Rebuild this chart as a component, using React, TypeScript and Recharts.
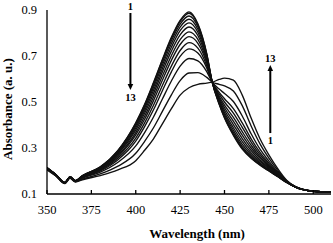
import * as React from 'react'
import { LineChart, Line, XAxis, YAxis, ReferenceLine } from 'recharts'

// wavelengths (nm)
const wl = [350, 355, 360, 363, 366, 370, 380, 390, 400, 405, 410, 415, 420, 425, 430, 435, 440, 443, 447, 450, 455, 460, 465, 470, 475, 480, 485, 490, 500, 510]

// absorbance, curve 1 .. 13
const c1 = [.215, .185, .150, .175, .158, .180, .218, .290, .410, .490, .585, .685, .780, .855, .892, .840, .710, .590, .490, .430, .355, .295, .255, .225, .200, .175, .150, .130, .112, .108]
const c2 = [.214, .184, .150, .174, .158, .180, .217, .289, .407, .487, .581, .681, .775, .850, .886, .836, .708, .589, .492, .433, .359, .299, .258, .227, .201, .176, .150, .130, .112, .108]
const c3 = [.214, .184, .150, .174, .158, .179, .216, .286, .402, .480, .573, .672, .765, .839, .874, .827, .704, .589, .495, .438, .367, .306, .263, .231, .203, .177, .150, .130, .112, .108]
const c4 = [.214, .184, .150, .174, .158, .178, .215, .282, .395, .472, .563, .660, .752, .826, .860, .816, .698, .589, .500, .446, .377, .316, .271, .235, .206, .178, .151, .130, .112, .108]
const c5 = [.213, .184, .149, .174, .157, .177, .213, .278, .387, .462, .551, .646, .737, .810, .844, .803, .692, .589, .505, .454, .388, .328, .279, .241, .210, .180, .151, .130, .112, .108]
const c6 = [.213, .184, .149, .174, .157, .177, .211, .274, .378, .451, .537, .631, .720, .792, .826, .789, .685, .589, .511, .464, .402, .341, .289, .247, .214, .182, .152, .130, .112, .108]
const c7 = [.213, .184, .149, .174, .157, .175, .208, .268, .367, .438, .522, .613, .700, .771, .805, .772, .677, .588, .518, .475, .417, .356, .300, .255, .218, .184, .153, .130, .112, .108]
const c8 = [.211, .182, .148, .171, .155, .174, .206, .263, .357, .425, .506, .595, .680, .750, .784, .755, .669, .588, .525, .486, .433, .371, .312, .262, .223, .186, .153, .131, .112, .108]
const c9 = [.211, .182, .148, .171, .155, .173, .203, .256, .343, .409, .486, .572, .655, .724, .758, .734, .658, .588, .534, .500, .452, .390, .326, .271, .228, .189, .154, .131, .112, .108]
const c10 = [.211, .182, .148, .171, .155, .171, .200, .249, .330, .393, .466, .549, .630, .698, .731, .713, .648, .587, .542, .514, .471, .409, .340, .281, .234, .192, .155, .131, .112, .108]
const c11 = [.208, .180, .147, .170, .154, .169, .195, .238, .309, .367, .435, .513, .590, .656, .689, .679, .632, .587, .556, .537, .502, .439, .362, .295, .243, .196, .156, .131, .112, .108]
const c12 = [.208, .180, .147, .170, .154, .165, .187, .221, .277, .329, .388, .459, .530, .593, .626, .628, .607, .587, .577, .570, .548, .484, .396, .318, .256, .203, .158, .132, .112, .108]
const c13 = [.205, .178, .145, .168, .152, .162, .180, .205, .245, .290, .340, .405, .470, .530, .562, .577, .582, .586, .598, .604, .595, .530, .430, .340, .270, .210, .160, .132, .112, .108]

const curves = [c1, c2, c3, c4, c5, c6, c7, c8, c9, c10, c11, c12, c13]
const xTicks = [350, 375, 400, 425, 450, 475, 500]
const yTicks = [0.1, 0.3, 0.5, 0.7, 0.9]

const rows = wl.map((w, i) => {
    const r: any = { w }
    curves.forEach((c, k) => { r['s' + (k + 1)] = c[i] })
    return r
})

const serif = '"Liberation Serif", "Times New Roman", serif'

// vertical arrow with a number at each end
const arrow = (head: 'up' | 'down', topText: string, bottomText: string) => (p: any) => {
    const x = p.x1
    const top = Math.min(p.y1, p.y2)
    const bot = Math.max(p.y1, p.y2)
    const tri = head === 'down'
        ? `${x - 2.8},${bot - 6} ${x + 2.8},${bot - 6} ${x},${bot}`
        : `${x - 2.8},${top + 6} ${x + 2.8},${top + 6} ${x},${top}`
    const txt = { fontFamily: serif, fontSize: 10.5, fontWeight: 700, fill: '#000', stroke: 'none' }
    return (
        <g>
            <line x1={x} x2={x} y1={head === 'up' ? top + 5 : top} y2={head === 'down' ? bot - 5 : bot} stroke="#000" strokeWidth={2} />
            <polygon points={tri} fill="#000" stroke="none" />
            <text x={x} y={top - 3} textAnchor="middle" style={txt}>{topText}</text>
            <text x={x} y={bot + 11} textAnchor="middle" style={txt}>{bottomText}</text>
        </g>
    )
}

const XTitle = ({ viewBox }: any) => (
    <text x={viewBox.x + viewBox.width / 2 + 8} y={237.5} textAnchor="middle"
        style={{ fontFamily: serif, fontSize: 13, fontWeight: 700, fill: '#000' }}>Wavelength (nm)</text>
)

const YTitle = ({ viewBox }: any) => {
    const cy = viewBox.y + viewBox.height / 2 + 7
    return (
        <text x={12} y={cy} transform={`rotate(-90 12 ${cy})`} textAnchor="middle"
            style={{ fontFamily: serif, fontSize: 13, fontWeight: 700, fill: '#000' }}>Absorbance (a. u.)</text>
    )
}

export default function App() {
    const tick = { fill: '#000', fontSize: 12.5, fontFamily: serif }
    return (
        <div style={{ position: 'absolute', left: 0, top: 0, width: 333, height: 243, background: '#fff' }}>
            <LineChart width={333} height={243} data={rows} margin={{ top: 10, right: 2, bottom: 0, left: 0 }}>
                <XAxis dataKey="w" type="number" domain={[350, 510]} ticks={xTicks} allowDataOverflow
                    height={49} tick={tick} tickSize={-4} tickMargin={15}
                    axisLine={{ stroke: '#000', strokeWidth: 1.3 }} tickLine={{ stroke: '#000', strokeWidth: 1.3 }}
                    label={{ content: XTitle }} />
                <YAxis type="number" domain={[0.1, 0.9]} ticks={yTicks} allowDataOverflow width={47}
                    tick={tick} tickLine={false} tickSize={0} tickMargin={10}
                    tickFormatter={(v: number) => v.toFixed(1)}
                    axisLine={{ stroke: '#000', strokeWidth: 1.3 }}
                    label={{ content: YTitle }} />
                {curves.map((_, k) => (
                    <Line key={k} dataKey={'s' + (k + 1)} type="monotone" stroke="#111" strokeWidth={1.35}
                        dot={false} activeDot={false} isAnimationActive={false} />
                ))}
                <ReferenceLine segment={[{ x: 397, y: 0.887 }, { x: 397, y: 0.552 }]} shape={arrow('down', '1', '13')} />
                <ReferenceLine segment={[{ x: 475.8, y: 0.661 }, { x: 475.8, y: 0.365 }]} shape={arrow('up', '13', '1')} />
            </LineChart>
        </div>
    )
}
